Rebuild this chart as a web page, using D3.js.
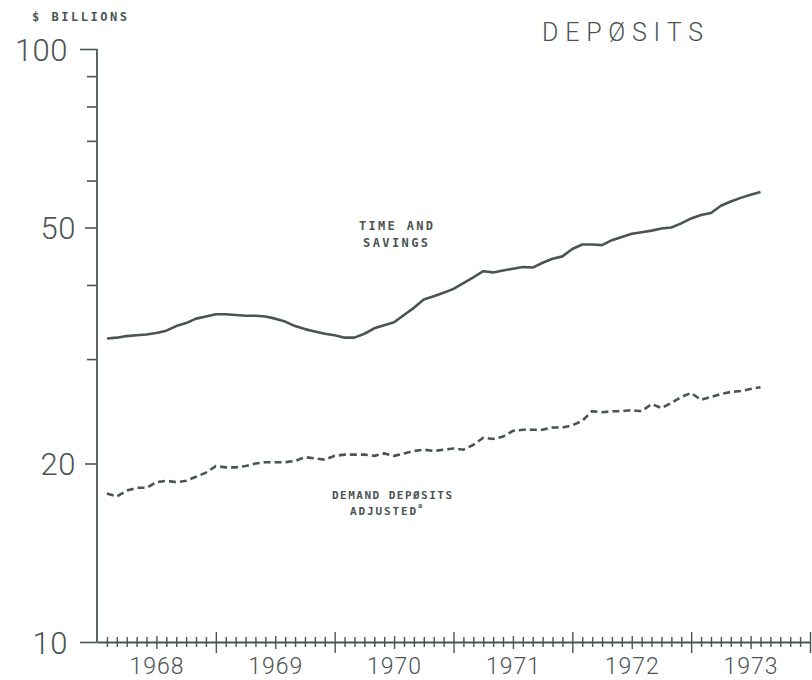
<!DOCTYPE html>
<html>
<head>
<meta charset="utf-8">
<script src="https://cdn.jsdelivr.net/npm/d3@7"></script>
<style>
  html, body { margin: 0; padding: 0; background: #ffffff; }
  svg { display: block; }
</style>
</head>
<body>
<svg id="chart" width="812" height="680"></svg>
<script>
// ---- Data (monthly, Jan 1968 .. Jul 1973, $ billions) ----
const yearLabels = ["1968", "1969", "1970", "1971", "1972", "1973"];
const yTickLabeled = [100, 50, 20, 10];
const yTickMinor = [90, 80, 70, 60, 40, 30];

const timeSavings = [
  32.5, 32.6, 32.8, 32.9, 33.0, 33.2, 33.5, 34.1, 34.5, 35.1, 35.4, 35.7,
  35.7, 35.6, 35.5, 35.5, 35.4, 35.1, 34.7, 34.1, 33.7, 33.4, 33.1, 32.9,
  32.6, 32.6, 33.1, 33.8, 34.2, 34.6, 35.6, 36.6, 37.8, 38.3, 38.8, 39.4,
  40.3, 41.2, 42.2, 42.0, 42.3, 42.6, 42.9, 42.8, 43.6, 44.3, 44.7, 46.0,
  46.8, 46.8, 46.7, 47.6, 48.2, 48.8, 49.1, 49.4, 49.8, 50.0, 50.8, 51.8,
  52.5, 52.9, 54.4, 55.3, 56.1, 56.8, 57.4
];
const demandDeposits = [
  17.8, 17.6, 18.0, 18.2, 18.2, 18.6, 18.7, 18.6, 18.7, 19.0, 19.3, 19.8,
  19.7, 19.7, 19.8, 20.0, 20.1, 20.1, 20.1, 20.2, 20.5, 20.4, 20.3, 20.6,
  20.7, 20.7, 20.7, 20.6, 20.8, 20.6, 20.8, 21.0, 21.1, 21.0, 21.1, 21.2,
  21.1, 21.5, 22.1, 22.0, 22.2, 22.7, 22.8, 22.8, 22.8, 23.0, 23.0, 23.2,
  23.6, 24.5, 24.4, 24.5, 24.5, 24.6, 24.5, 25.2, 24.8, 25.3, 25.9, 26.3,
  25.6, 25.9, 26.2, 26.4, 26.5, 26.7, 26.9
];

// ---- Layout ----
const ink = "#4a5452";
const svg = d3.select("#chart");
const x = d3.scaleLinear().domain([0, 72]).range([97, 810]);
const y = d3.scaleLog().domain([10, 100]).range([642, 49]);
const thinFont = "Roboto, 'Open Sans', 'DejaVu Sans', sans-serif";
const smallBold = "'DejaVu Sans Mono', monospace";

// ---- Y axis ----
const yAxisG = svg.append("g").attr("transform", `translate(${x(0)},0)`);
yAxisG.call(d3.axisLeft(y).tickValues(yTickMinor).tickSize(10).tickFormat(""));
yAxisG.select(".domain").remove();
yAxisG.selectAll("line").attr("stroke", ink).attr("stroke-width", 1.6);

const yMajG = svg.append("g").attr("transform", `translate(${x(0)},0)`);
yMajG.call(d3.axisLeft(y).tickValues(yTickLabeled)
  .tickSize(0).tickPadding(0).tickFormat(d3.format("d")));
yMajG.select(".domain").remove();
yMajG.selectAll(".tick line")
  .attr("x2", d => (d === 100 || d === 10) ? -17 : -12)
  .attr("stroke", ink).attr("stroke-width", 1.6);
yMajG.selectAll(".tick text")
  .attr("x", d => (d === 100 || d === 10) ? -29 : -21)
  .attr("dy", "0.36em")
  .attr("fill", ink)
  .style("font-family", thinFont)
  .style("font-weight", "300")
  .style("font-size", "31px")
  .style("letter-spacing", "0.5px");

svg.append("line")
  .attr("x1", x(0)).attr("x2", x(0))
  .attr("y1", y(100)).attr("y2", y(10))
  .attr("stroke", ink).attr("stroke-width", 1.8);

// ---- X axis ----
const months = d3.range(1, 73);
const xAxisG = svg.append("g").attr("transform", `translate(0,${y(10)})`);
xAxisG.call(d3.axisBottom(x).tickValues(months).tickSize(0).tickFormat(""));
xAxisG.select(".domain").attr("stroke", ink).attr("stroke-width", 1.8);
xAxisG.selectAll(".tick line")
  .attr("y1", d => d % 12 === 0 ? -10 : (d % 12 === 6 ? -6 : -5))
  .attr("y2", d => d % 12 === 0 ? 11 : (d % 12 === 6 ? 7 : 5))
  .attr("stroke", ink).attr("stroke-width", 1.4);

const yearG = svg.append("g").attr("transform", `translate(0,${y(10)})`);
yearG.call(d3.axisBottom(x).tickValues(yearLabels.map((d, i) => i * 12 + 6))
  .tickSize(0).tickPadding(0).tickFormat((d, i) => yearLabels[i]));
yearG.select(".domain").remove();
yearG.selectAll(".tick text")
  .attr("y", 32)
  .attr("dy", 0)
  .attr("fill", ink)
  .style("font-family", thinFont)
  .style("font-weight", "300")
  .style("font-size", "23px")
  .style("letter-spacing", "1px");

// ---- Lines ----
const line = d3.line().x((d, i) => x(i + 1)).y(d => y(d)).curve(d3.curveLinear);
svg.append("path").datum(timeSavings)
  .attr("d", line).attr("fill", "none")
  .attr("stroke", ink).attr("stroke-width", 2.6).attr("stroke-linejoin", "round");
svg.append("path").datum(demandDeposits)
  .attr("d", line).attr("fill", "none")
  .attr("stroke", ink).attr("stroke-width", 2.6)
  .attr("stroke-dasharray", "7,4");

// ---- Text ----
svg.append("text").attr("x", 32).attr("y", 21)
  .attr("fill", ink).style("font-family", smallBold).style("font-weight", "bold")
  .style("font-size", "12px")
  .attr("textLength", 95).attr("lengthAdjust", "spacing")
  .text("$ BILLIONS");

svg.append("text").attr("x", 542).attr("y", 41)
  .attr("fill", ink).style("font-family", thinFont).style("font-weight", "300")
  .style("font-size", "25px")
  .attr("textLength", 161).attr("lengthAdjust", "spacing")
  .text("DEPØSITS");

const smallLabel = (tx, ty, txt, len, size) => svg.append("text")
  .attr("x", tx).attr("y", ty).attr("fill", ink)
  .style("font-family", smallBold).style("font-weight", "bold")
  .style("font-size", size + "px")
  .attr("textLength", len).attr("lengthAdjust", "spacing")
  .text(txt);

smallLabel(359, 230, "TIME AND", 74, 12);
smallLabel(363, 247, "SAVINGS", 65, 12);
smallLabel(332, 499, "DEMAND DEPØSITS", 120, 11);
smallLabel(350, 515, "ADJUSTED", 66, 11);
svg.append("text").attr("x", 418).attr("y", 508).attr("fill", ink)
  .style("font-family", smallBold).style("font-weight", "bold")
  .style("font-size", "7px").text("a");
</script>
</body>
</html>
